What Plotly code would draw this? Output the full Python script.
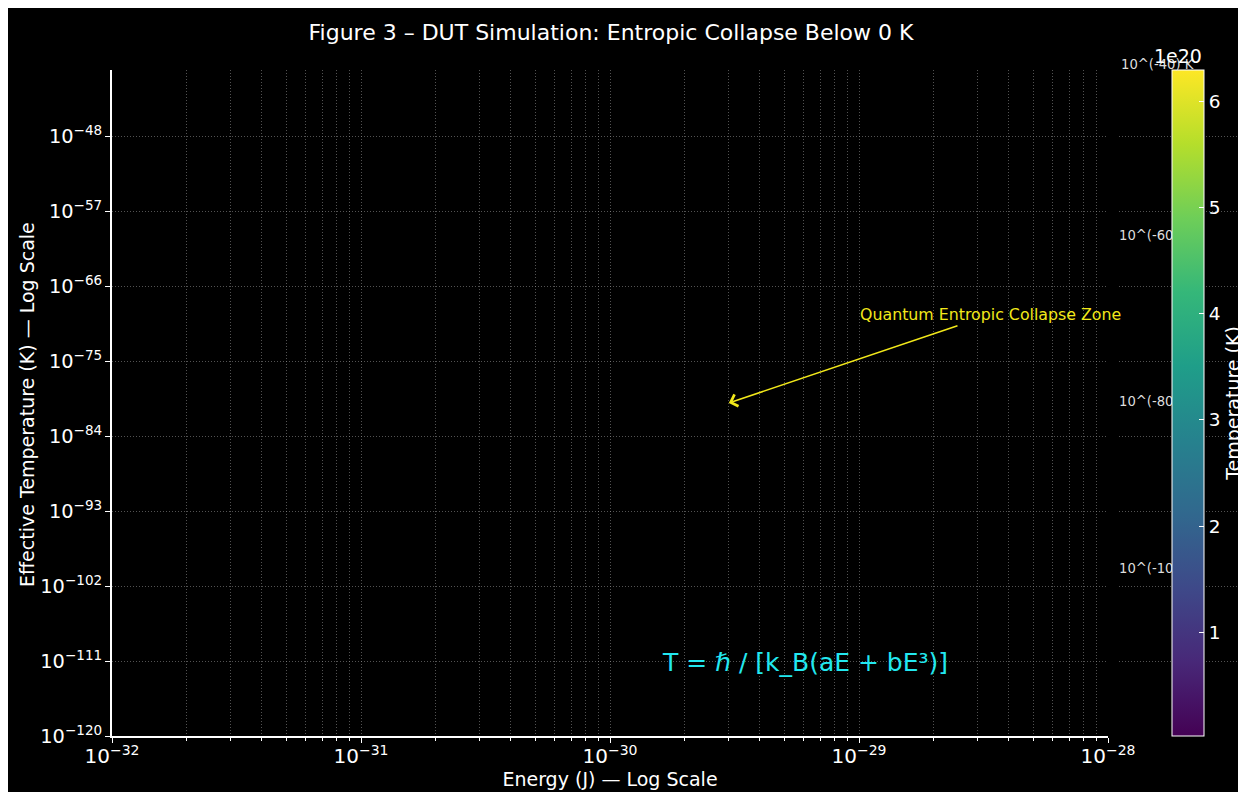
import numpy as np
import plotly.graph_objects as go

# ---- data / values ----
energy_range = [1e-32, 1e-28]              # x axis (J), log scale
temp_range = [1e-120, 1e-40]               # y axis (K), log scale
y_tick_step_decades = 9
threshold_temps = [1e-40, 1e-60, 1e-80, 1e-100]
threshold_labels = ["10^(-40) K", "10^(-60) K", "10^(-80) K", "10^(-100) K"]
colorbar_range_e20 = [0.02, 6.30]          # colour scale (×1e20 K)
colorbar_ticks_e20 = [1, 2, 3, 4, 5, 6]
arrow_target = (3.0e-30, 1e-80)
arrow_label_pos = (3.36e-29, 10 ** -69.4)
arrow_label = "Quantum Entropic Collapse Zone"
equation = "T = ℏ / [k_B(aE + bE³)]"

FONT = "DejaVu Sans"
OFF = 8                                  # page body margin (screen px)
W, H = 1246 - OFF, 792 - OFF             # figure size
ML, MR = 112 - OFF, 0                    # paper spans figure x from ML to W
T, B = 70 - OFF, 736 - OFF               # plot area top / bottom (figure px)
PW = W - ML - MR                         # paper width in px
PLOT_R = 1108 - OFF                      # main plot right edge (figure px)


def px_x(p):           # screen px -> paper x
    return (p - OFF - ML) / PW


def px_y(p):           # screen px -> paper y
    return (B - (p - OFF)) / (B - T)


fig = go.Figure()

# threshold labels level with the colour bar: text on a helper axis to the right
# of the plot (drawn under the colour bar, which hides their overflow as in the reference)
fig.add_trace(go.Scatter(
    x=[0] * (len(threshold_temps) - 1), y=threshold_temps[1:],
    xaxis="x2", yaxis="y", mode="text", text=threshold_labels[1:],
    textposition="middle right", cliponaxis=False,
    textfont=dict(family=FONT, size=13.2, color="#dddddd"),
    showlegend=False, hoverinfo="skip",
))
# top label sits above the colour bar and stays fully visible
fig.add_annotation(xref="paper", yref="y", x=px_x(1119), y=np.log10(threshold_temps[0]),
                   text=threshold_labels[0], showarrow=False,
                   xanchor="left", yanchor="middle", yshift=6,
                   font=dict(family=FONT, size=13.2, color="#dddddd"))

# colour-bar carrier trace (no visible marks)
fig.add_trace(go.Scatter(
    x=[None, None], y=[None, None], mode="markers",
    marker=dict(
        color=[v * 1e20 for v in colorbar_range_e20],
        cmin=colorbar_range_e20[0] * 1e20, cmax=colorbar_range_e20[1] * 1e20,
        colorscale="Viridis", showscale=True,
        colorbar=dict(
            x=px_x(1172), xanchor="left", xpad=0,
            y=0.5, yanchor="middle", len=1, lenmode="fraction", ypad=0,
            thickness=32, outlinecolor="white", outlinewidth=1,
            tickvals=[v * 1e20 for v in colorbar_ticks_e20],
            ticktext=[str(v) for v in colorbar_ticks_e20],
            ticks="inside", ticklen=5, tickcolor="white",
            tickfont=dict(family=FONT, size=18.5, color="white"),
            title=dict(text="Temperature (K)", side="right",
                       font=dict(family=FONT, size=19, color="white")),
        ),
    ),
    showlegend=False, hoverinfo="skip",
))

# threshold lines
for t in threshold_temps:
    fig.add_shape(type="line", xref="x domain", yref="y",
                  x0=0, x1=1, y0=np.log10(t), y1=np.log10(t),
                  line=dict(color="rgba(165,165,165,0.9)", width=1.5, dash="2px,4px"))

# arrow annotation
fig.add_annotation(
    x=np.log10(arrow_target[0]), y=np.log10(arrow_target[1]),
    ax=np.log10(arrow_label_pos[0]), ay=np.log10(arrow_label_pos[1]),
    xref="x", yref="y", axref="x", ayref="y",
    text=arrow_label, showarrow=True, arrowhead=4, arrowsize=1.6, arrowwidth=1.5,
    arrowcolor="#f2e81a", font=dict(family=FONT, size=15.8, color="#f2e81a"),
)

# equation
fig.add_annotation(xref="paper", yref="paper", x=px_x(660), y=px_y(662),
                   text=equation, showarrow=False, xanchor="left", yanchor="middle",
                   font=dict(family=FONT, size=25, color="#22e8f0"))

# colour-bar offset text
fig.add_annotation(xref="paper", yref="paper", x=px_x(1204), y=px_y(69),
                   text="1e20", showarrow=False, xanchor="right", yanchor="bottom",
                   font=dict(family=FONT, size=19, color="white"))

# y-axis title
fig.add_annotation(xref="paper", yref="paper", x=px_x(27), y=px_y(405),
                   text="Effective Temperature (K) — Log Scale", textangle=-90,
                   showarrow=False, xanchor="center", yanchor="middle",
                   font=dict(family=FONT, size=19, color="white"))

grid = "rgba(150,150,150,0.55)"
fig.update_layout(
    xaxis=dict(
        domain=[0, (PLOT_R - ML) / PW],
        type="log", range=[np.log10(energy_range[0]), np.log10(energy_range[1])],
        dtick=1, exponentformat="power", showexponent="all",
        showline=True, linecolor="white", linewidth=1.5, mirror=False,
        ticks="outside", ticklen=5, tickwidth=1.2, tickcolor="white",
        tickfont=dict(family=FONT, size=16, color="white"),
        ticklabelstandoff=-3,
        showgrid=True, gridcolor=grid, griddash="1px,2px", gridwidth=0.8,
        minor=dict(ticks="outside", ticklen=3, tickcolor="white", tickwidth=1,
                   showgrid=True, gridcolor=grid, griddash="1px,2px", gridwidth=0.8),
        zeroline=False, automargin=False, anchor="y",
        title=dict(text="Energy (J) — Log Scale", standoff=0,
                   font=dict(family=FONT, size=19, color="white")),
    ),
    xaxis2=dict(domain=[px_x(1119), 1], range=[0, 1], visible=False,
                anchor="y", fixedrange=True, showgrid=False),
    yaxis=dict(
        type="log", range=[np.log10(temp_range[0]), np.log10(temp_range[1])],
        tick0=np.log10(temp_range[0]), dtick=y_tick_step_decades,
        exponentformat="power", showexponent="all",
        showline=True, linecolor="white", linewidth=1.5, mirror=False,
        ticks="outside", ticklen=5, tickwidth=1.2, tickcolor="white",
        tickfont=dict(family=FONT, size=15.5, color="white"),
        showgrid=True, gridcolor=grid, griddash="1px,2px", gridwidth=0.8,
        zeroline=False, automargin=False, anchor="x",
    ),
    width=W, height=H,
    margin=dict(l=ML, r=MR, t=T, b=H - B, pad=0, autoexpand=False),
    paper_bgcolor="black", plot_bgcolor="black",
    title=dict(text="Figure 3 – DUT Simulation: Entropic Collapse Below 0 K",
               x=px_x(611), xref="paper", y=1 - (32 - OFF) / H, yref="container",
               xanchor="center", yanchor="middle",
               font=dict(family=FONT, size=22, color="white")),
    font=dict(family=FONT, color="white"),
    showlegend=False,
)

fig.write_html("out.html")
